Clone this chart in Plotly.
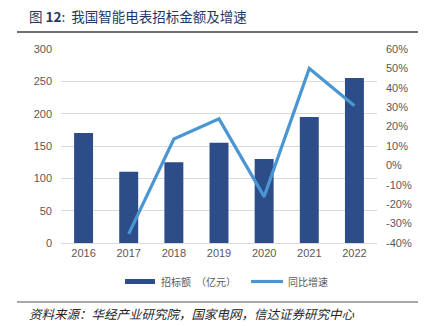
import plotly.graph_objects as go

years = ["2016", "2017", "2018", "2019", "2020", "2021", "2022"]
bid_amount = [170, 110, 125, 155, 130, 195, 255]          # 招标额（亿元）
yoy_years = ["2017", "2018", "2019", "2020", "2021", "2022"]
yoy_growth = [-0.353, 0.136, 0.24, -0.161, 0.50, 0.308]    # 同比增速

left_ticks = [0, 50, 100, 150, 200, 250, 300]
right_ticks = [-0.4, -0.3, -0.2, -0.1, 0, 0.1, 0.2, 0.3, 0.4, 0.5, 0.6]
right_labels = ["-40%", "-30%", "-20%", "-10%", "0%", "10%", "20%", "30%", "40%", "50%", "60%"]

BAR = "#2C4D87"
LINE = "#4A96D3"
TICK = "#595959"
CJK = "Noto Sans CJK SC"

# The margins enclose the whole framed panel (between the two rules);
# the chart itself sits inside via axis domains.
W, H = 427, 326
ML, MR, MT, MB = 17, 9, 31, 23
PW, PH = W - ML - MR, H - MT - MB


def px(xpix):
    return (xpix - ML) / PW


def py(ypix):
    return (H - MB - ypix) / PH


fig = go.Figure()
fig.add_trace(go.Bar(x=years, y=bid_amount, marker=dict(color=BAR, line=dict(width=0)),
                     width=0.42, showlegend=False))
fig.add_trace(go.Scatter(x=yoy_years, y=yoy_growth, yaxis="y2", mode="lines",
                         line=dict(color=LINE, width=3.2), showlegend=False))

# Frame rules (under the title, above the source note) on a hidden full-panel axis pair
fig.add_trace(go.Scatter(x=[0, 1], y=[py(32), py(32)], xaxis="x3", yaxis="y3", mode="lines",
                         line=dict(color="#404040", width=1.5), showlegend=False,
                         hoverinfo="skip", cliponaxis=False))
fig.add_trace(go.Scatter(x=[0, 1], y=[py(302), py(302)], xaxis="x3", yaxis="y3", mode="lines",
                         line=dict(color="#8C8C8C", width=1.5), showlegend=False,
                         hoverinfo="skip", cliponaxis=False))

fig.update_layout(
    width=W, height=H,
    margin=dict(l=ML, r=MR, t=MT, b=MB),
    paper_bgcolor="white", plot_bgcolor="rgba(0,0,0,0)",
    font=dict(family="Liberation Sans, Arial", size=11, color=TICK),
    xaxis=dict(type="category", domain=[px(61), px(377)], showgrid=False, ticks="", showline=True,
               linecolor="#D9D9D9", linewidth=1, tickfont=dict(size=11, color=TICK)),
    yaxis=dict(range=[0, 300], domain=[py(243), py(49)], tickvals=left_ticks, showgrid=True,
               gridcolor="#D9D9D9", gridwidth=1, zeroline=False, ticks="", ticklabelstandoff=8,
               tickfont=dict(size=11, color=TICK)),
    yaxis2=dict(range=[-0.4, 0.6], tickvals=right_ticks, ticktext=right_labels,
                overlaying="y", side="right", showgrid=False, zeroline=False, ticks="",
                ticklabelstandoff=8, tickfont=dict(size=11, color=TICK)),
    xaxis3=dict(domain=[0, 1], range=[0, 1], visible=False, fixedrange=True, anchor="y3"),
    yaxis3=dict(domain=[0, 1], range=[0, 1], visible=False, fixedrange=True, anchor="x3"),
)

# Title
fig.add_annotation(xref="paper", yref="paper", x=px(27), y=py(16), xanchor="left", yanchor="middle",
                   showarrow=False,
                   text="图 <b>12</b>:  我国智能电表招标金额及增速",
                   font=dict(family=CJK, size=13.5, color="#1F3864"))

# Legend
fig.add_shape(type="line", xref="paper", yref="paper", x0=px(125), x1=px(155), y0=py(281.5), y1=py(281.5),
              line=dict(color=BAR, width=5))
fig.add_annotation(xref="paper", yref="paper", x=px(159), y=py(281.5), xanchor="left", yanchor="middle",
                   showarrow=False, text="招标额　（亿元）", font=dict(family=CJK, size=10, color=TICK))
fig.add_shape(type="line", xref="paper", yref="paper", x0=px(251), x1=px(283), y0=py(281.5), y1=py(281.5),
              line=dict(color=LINE, width=3.2))
fig.add_annotation(xref="paper", yref="paper", x=px(286), y=py(281.5), xanchor="left", yanchor="middle",
                   showarrow=False, text="同比增速", font=dict(family=CJK, size=10, color=TICK))

# Source note
fig.add_annotation(xref="paper", yref="paper", x=px(27), y=py(313), xanchor="left", yanchor="middle",
                   showarrow=False, text="<i>资料来源：华经产业研究院，国家电网，信达证券研究中心</i>",
                   font=dict(family=CJK, size=12.5, color="#262626"))

fig.write_html("out.html")
